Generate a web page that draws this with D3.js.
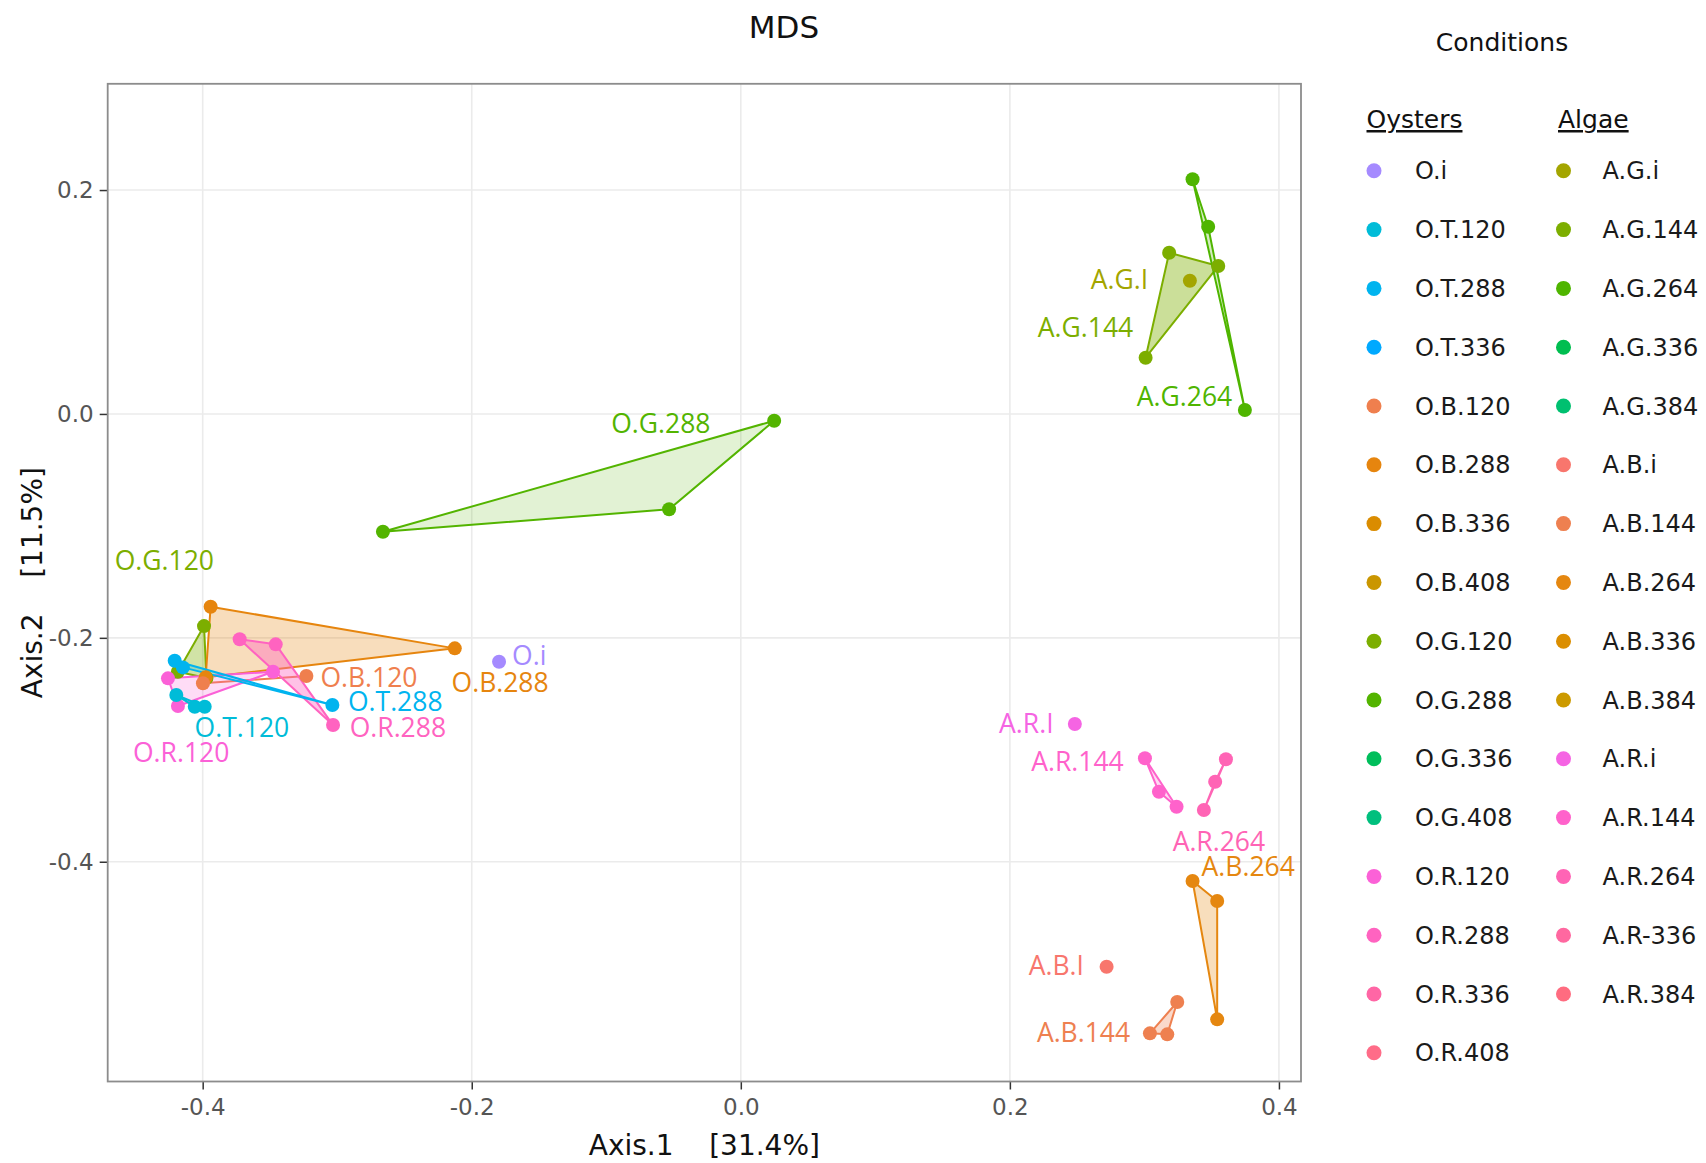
<!DOCTYPE html>
<html><head><meta charset="utf-8">
<script src="https://cdnjs.cloudflare.com/ajax/libs/d3/7.8.5/d3.min.js"></script>
<style>body{margin:0;background:#fff;} svg{display:block;}</style>
</head><body>
<svg id="chart" width="1706" height="1163"></svg>
<script>
// ---- data ----
const oysterConditions = ["O.i","O.T.120","O.T.288","O.T.336","O.B.120","O.B.288","O.B.336","O.B.408","O.G.120","O.G.288","O.G.336","O.G.408","O.R.120","O.R.288","O.R.336","O.R.408"];
const oysterColors = ["#A58AFF","#00BCD8","#00B4EF","#00A9FF","#EF7F4E","#E6850E","#DA8C00","#CA9600","#7CAE00","#53B400","#00BE5B","#00BF7D","#FB61D7","#FF63C0","#FF66A5","#FF6C88"];
const algaeConditions = ["A.G.i","A.G.144","A.G.264","A.G.336","A.G.384","A.B.i","A.B.144","A.B.264","A.B.336","A.B.384","A.R.i","A.R.144","A.R.264","A.R-336","A.R.384"];
const algaeColors = ["#A3A500","#7CAE00","#4FB500","#00BE50","#00C070","#F8766D","#EE8050","#E58710","#DB8E00","#CC9A00","#F564E3","#FF62CB","#FF64B5","#FF68A0","#FF6C80"];

// sample coordinates (Axis.1, Axis.2) with their condition
const pointGroup = [
  "O.G.120","O.G.120","O.G.120",
  "O.B.288","O.B.288","O.B.288",
  "O.B.120","O.B.120",
  "O.R.120","O.R.120","O.R.120",
  "O.T.120","O.T.120","O.T.120",
  "O.R.288","O.R.288","O.R.288",
  "O.T.288","O.T.288","O.T.288",
  "O.G.288","O.G.288","O.G.288",
  "O.i",
  "A.G.144","A.G.144","A.G.144",
  "A.G.264","A.G.264","A.G.264",
  "A.G.i",
  "A.R.i",
  "A.R.144","A.R.144","A.R.144",
  "A.R.264","A.R.264","A.R.264",
  "A.B.264","A.B.264","A.B.264",
  "A.B.i",
  "A.B.144","A.B.144","A.B.144"
];
const pointX = [
  -0.3990,-0.4184,-0.3972,
  -0.3941,-0.2126,-0.3978,
  -0.3998,-0.3229,
  -0.4258,-0.4184,-0.3477,
  -0.4196,-0.4059,-0.3985,
  -0.3725,-0.3457,-0.3031,
  -0.4208,-0.4147,-0.3036,
  -0.2660,-0.0533,0.0248,
  -0.1797,
  0.3184,0.3549,0.3009,
  0.3358,0.3474,0.3747,
  0.3338,
  0.2483,
  0.3004,0.3108,0.3239,
  0.3442,0.3526,0.3606,
  0.3358,0.3541,0.3541,
  0.2719,
  0.3244,0.3041,0.3170
];
const pointY = [
  -0.1895,-0.2303,-0.2359,
  -0.1722,-0.2094,-0.2353,
  -0.2406,-0.2341,
  -0.2362,-0.2609,-0.2303,
  -0.2511,-0.2615,-0.2615,
  -0.2013,-0.2058,-0.2779,
  -0.2205,-0.2264,-0.2600,
  -0.1052,-0.0852,-0.0061,
  -0.2213,
  0.1440,0.1321,0.0502,
  0.2096,0.1672,0.0035,
  0.1190,
  -0.2770,
  -0.3076,-0.3375,-0.3509,
  -0.3538,-0.3285,-0.3085,
  -0.4172,-0.4351,-0.5408,
  -0.4938,
  -0.5253,-0.5533,-0.5542
];

// text annotations placed in data units
const labelText = ["O.G.288","O.G.120","O.B.120","O.B.288","O.i","O.T.288","O.R.288","O.T.120","O.R.120","A.G.I","A.G.144","A.G.264","A.R.I","A.R.144","A.R.264","A.B.264","A.B.I","A.B.144"];
const labelGroup = ["O.G.288","O.G.120","O.B.120","O.B.288","O.i","O.T.288","O.R.288","O.T.120","O.R.120","A.G.i","A.G.144","A.G.264","A.R.i","A.R.144","A.R.264","A.B.264","A.B.i","A.B.144"];
const labelX = [-0.0963,-0.4654,-0.3125,-0.2150,-0.1700,-0.2920,-0.2907,-0.4060,-0.4518,0.2602,0.2208,0.2944,0.1920,0.2159,0.3210,0.3425,0.2140,0.2201];
const labelY = [-0.0171,-0.1394,-0.2435,-0.2480,-0.2243,-0.2650,-0.2883,-0.2883,-0.3106,0.1112,0.0684,0.0072,-0.2853,-0.3193,-0.3903,-0.4130,-0.5012,-0.5613];

const xTicks = [-0.4,-0.2,0.0,0.2,0.4];
const xTickLabels = ["-0.4","-0.2","0.0","0.2","0.4"];
const yTicks = [0.2,0.0,-0.2,-0.4];
const yTickLabels = ["0.2","0.0","-0.2","-0.4"];

// ---- drawing ----
const svg = d3.select("#chart");
const L = 107.7, R = 1301, T = 83.8, B = 1081.5;
const x = d3.scaleLinear().domain([-0.4706, 0.4164]).range([L, R]);
const y = d3.scaleLinear().domain([0.2949, -0.5963]).range([T, B]);

const colorOf = d3.scaleOrdinal()
  .domain(oysterConditions.concat(algaeConditions))
  .range(oysterColors.concat(algaeColors));

// grid
const grid = svg.append("g");
grid.selectAll("line.gx").data(xTicks).join("line")
  .attr("x1", d => x(d)).attr("x2", d => x(d)).attr("y1", T).attr("y2", B)
  .attr("stroke", "#EBEBEB").attr("stroke-width", 1.6);
grid.selectAll("line.gy").data(yTicks).join("line")
  .attr("y1", d => y(d)).attr("y2", d => y(d)).attr("x1", L).attr("x2", R)
  .attr("stroke", "#EBEBEB").attr("stroke-width", 1.6);

// axes
const xAxis = d3.axisBottom(x).tickValues(xTicks)
  .tickFormat((d, i) => xTickLabels[i]).tickSize(8).tickPadding(9);
const yAxis = d3.axisLeft(y).tickValues(yTicks)
  .tickFormat((d, i) => yTickLabels[i]).tickSize(8).tickPadding(6);
const gx = svg.append("g").attr("transform", `translate(0,${B})`).call(xAxis);
const gy = svg.append("g").attr("transform", `translate(${L},0)`).call(yAxis);
[gx, gy].forEach(g => {
  g.select(".domain").remove();
  g.selectAll(".tick line").attr("stroke", "#333").attr("stroke-width", 1.5);
  g.selectAll(".tick text").attr("fill", "#555")
    .style("font-family", "'DejaVu Sans', Verdana, sans-serif").style("font-size", "23px");
});

// panel border
svg.append("rect").attr("x", L).attr("y", T).attr("width", R - L).attr("height", B - T)
  .attr("fill", "none").attr("stroke", "#8C8C8C").attr("stroke-width", 1.8);

// hulls
const pts = pointGroup.map((g, i) => ({g, x: pointX[i], y: pointY[i]}));
const grouped = d3.groups(pts, d => d.g);
const fillAlpha = {"O.G.288":0.17,"O.R.120":0.22,"O.R.288":0.4,"A.G.144":0.4,"O.G.120":0.35,"O.B.288":0.28,"A.B.264":0.28,"A.B.144":0.3};
const hulls = svg.append("g");
grouped.forEach(([g, arr]) => {
  const c = colorOf(g);
  const xy = arr.map(d => [x(d.x), y(d.y)]);
  if (xy.length >= 3) {
    const h = d3.polygonHull(xy);
    hulls.append("path").attr("d", "M" + h.join("L") + "Z")
      .attr("fill", c).attr("fill-opacity", fillAlpha[g] ?? 0.25)
      .attr("stroke", c).attr("stroke-width", 2).attr("stroke-linejoin", "round");
  } else if (xy.length === 2) {
    hulls.append("path").attr("d", "M" + xy.join("L"))
      .attr("fill", "none").attr("stroke", c).attr("stroke-width", 2);
  }
});

// points
svg.append("g").selectAll("circle").data(pts).join("circle")
  .attr("cx", d => x(d.x)).attr("cy", d => y(d.y)).attr("r", 7)
  .attr("fill", d => colorOf(d.g));

// labels
svg.append("g").selectAll("text").data(labelText).join("text")
  .attr("x", (d, i) => x(labelX[i])).attr("y", (d, i) => y(labelY[i]))
  .attr("fill", (d, i) => colorOf(labelGroup[i]))
  .style("font-family", "'Open Sans', sans-serif").style("font-size", "26.5px")
  .text(d => d);

// titles
svg.append("text").attr("x", 784).attr("y", 38).attr("text-anchor", "middle")
  .style("font-family", "'DejaVu Sans', sans-serif").style("font-size", "31px").attr("fill", "#111")
  .text("MDS");
svg.append("text").attr("x", (L + R) / 2).attr("y", 1155).attr("text-anchor", "middle")
  .attr("xml:space", "preserve").style("white-space", "pre")
  .style("font-family", "'DejaVu Sans', sans-serif").style("font-size", "28px").attr("fill", "#111")
  .text("Axis.1    [31.4%]");
svg.append("text").attr("transform", `translate(42,${(T + B) / 2}) rotate(-90)`).attr("text-anchor", "middle")
  .attr("xml:space", "preserve").style("white-space", "pre")
  .style("font-family", "'DejaVu Sans', sans-serif").style("font-size", "28px").attr("fill", "#111")
  .text("Axis.2    [11.5%]");

// legend
const lg = svg.append("g").style("font-family", "'DejaVu Sans', sans-serif");
lg.append("text").attr("x", 1502).attr("y", 51).attr("text-anchor", "middle")
  .style("font-size", "25px").attr("fill", "#111").text("Conditions");
const heads = [{t: "Oysters", x: 1366.5}, {t: "Algae", x: 1558}];
heads.forEach(h => {
  lg.append("text").attr("x", h.x).attr("y", 128).style("font-size", "25px")
    .attr("fill", "#111").attr("text-decoration", "underline").text(h.t);
});
const rowY = i => 170.8 + 58.8 * i;
const cols = [
  {names: oysterConditions, dx: 1374, tx: 1415},
  {names: algaeConditions, dx: 1563.5, tx: 1602.6}
];
cols.forEach(col => {
  const gEnt = lg.append("g").selectAll("g").data(col.names).join("g");
  gEnt.append("circle").attr("cx", col.dx).attr("cy", (d, i) => rowY(i)).attr("r", 7.5)
    .attr("fill", d => colorOf(d));
  gEnt.append("text").attr("x", col.tx).attr("y", (d, i) => rowY(i)).attr("dy", "0.36em")
    .style("font-size", "24px").attr("fill", "#1a1a1a").text(d => d);
});
</script>
</body></html>
